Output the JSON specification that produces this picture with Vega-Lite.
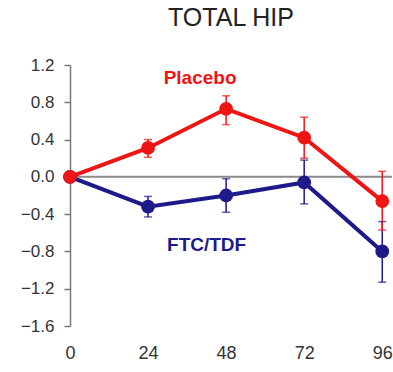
{
  "$schema": "https://vega.github.io/schema/vega-lite/v6.json",
  "autosize": "none",
  "width": 322,
  "height": 261,
  "padding": {"left": 70, "top": 65, "right": 1, "bottom": 46},
  "background": "white",
  "config": {"view": {"stroke": null}, "font": "Liberation Sans", "axis": {"labelFont": "Liberation Sans"}},
  "title": {"text": "TOTAL HIP", "fontSize": 25, "fontWeight": "normal", "color": "#222", "offset": 25, "anchor": "middle"},
  "datasets": {
    "pts": [
      {"week": 0, "mean": 0, "lo": 0, "hi": 0, "group": "FTC/TDF"},
      {"week": 24, "mean": -0.32, "lo": -0.43, "hi": -0.21, "group": "FTC/TDF"},
      {"week": 48, "mean": -0.2, "lo": -0.38, "hi": -0.02, "group": "FTC/TDF"},
      {"week": 72, "mean": -0.06, "lo": -0.29, "hi": 0.18, "group": "FTC/TDF"},
      {"week": 96, "mean": -0.8, "lo": -1.13, "hi": -0.48, "group": "FTC/TDF"},
      {"week": 0, "mean": 0, "lo": 0, "hi": 0, "group": "Placebo"},
      {"week": 24, "mean": 0.31, "lo": 0.21, "hi": 0.4, "group": "Placebo"},
      {"week": 48, "mean": 0.73, "lo": 0.56, "hi": 0.87, "group": "Placebo"},
      {"week": 72, "mean": 0.42, "lo": 0.2, "hi": 0.64, "group": "Placebo"},
      {"week": 96, "mean": -0.26, "lo": -0.57, "hi": 0.06, "group": "Placebo"}
    ],
    "labels": [
      {"week": 40, "val": 1.06, "text": "Placebo", "group": "Placebo"},
      {"week": 42, "val": -0.73, "text": "FTC/TDF", "group": "FTC/TDF"}
    ]
  },
  "layer": [
    {
      "data": {"values": [{"z": 0}]},
      "mark": {"type": "rule", "color": "#8a8a8a", "strokeWidth": 2},
      "encoding": {
        "y": {"field": "z", "type": "quantitative",
          "scale": {"domain": [-1.6, 1.2], "nice": false},
          "axis": {"values": [-1.6, -1.2, -0.8, -0.4, 0, 0.4, 0.8, 1.2], "tickCount": 12, "format": ".1f", "grid": false, "title": null,
            "domainColor": "#777", "domainWidth": 1.5, "tickColor": "#777", "tickSize": 6, "tickWidth": 1.5,
            "labelFontSize": 17, "labelColor": "#333", "labelPadding": 10, "labelOverlap": false, "labelFlush": false}},
        "x": {"datum": 0, "type": "quantitative",
          "scale": {"domain": [0, 99], "nice": false},
          "axis": {"values": [0, 24, 48, 72, 96], "tickCount": 10, "domain": false, "ticks": false, "grid": false, "title": null,
            "labelFontSize": 18, "labelColor": "#333", "labelPadding": 18, "labelOverlap": false, "labelFlush": false}},
        "x2": {"datum": 99}
      }
    },
    {
      "data": {"name": "pts"},
      "mark": {"type": "rule", "strokeWidth": 1.5},
      "encoding": {
        "x": {"field": "week", "type": "quantitative"},
        "y": {"field": "lo", "type": "quantitative"},
        "y2": {"field": "hi"},
        "color": {"field": "group", "type": "nominal", "legend": null,
          "scale": {"domain": ["Placebo", "FTC/TDF"], "range": ["#ee1515", "#1e1a8a"]}}
      }
    },
    {
      "data": {"name": "pts"},
      "mark": {"type": "tick", "orient": "horizontal", "size": 8, "thickness": 1.5},
      "encoding": {
        "x": {"field": "week", "type": "quantitative"},
        "y": {"field": "hi", "type": "quantitative"},
        "color": {"field": "group", "type": "nominal", "legend": null}
      }
    },
    {
      "data": {"name": "pts"},
      "mark": {"type": "tick", "orient": "horizontal", "size": 8, "thickness": 1.5},
      "encoding": {
        "x": {"field": "week", "type": "quantitative"},
        "y": {"field": "lo", "type": "quantitative"},
        "color": {"field": "group", "type": "nominal", "legend": null}
      }
    },
    {
      "data": {"name": "pts"},
      "mark": {"type": "line", "strokeWidth": 4},
      "encoding": {
        "x": {"field": "week", "type": "quantitative"},
        "y": {"field": "mean", "type": "quantitative"},
        "color": {"field": "group", "type": "nominal", "legend": null},
        "detail": {"field": "group"}
      }
    },
    {
      "data": {"name": "pts"},
      "mark": {"type": "point", "filled": true, "size": 190, "opacity": 1},
      "encoding": {
        "x": {"field": "week", "type": "quantitative"},
        "y": {"field": "mean", "type": "quantitative"},
        "color": {"field": "group", "type": "nominal", "legend": null}
      }
    },
    {
      "data": {"name": "labels"},
      "mark": {"type": "text", "fontSize": 19, "fontWeight": "bold", "align": "center", "baseline": "middle"},
      "encoding": {
        "x": {"field": "week", "type": "quantitative"},
        "y": {"field": "val", "type": "quantitative"},
        "text": {"field": "text"},
        "color": {"field": "group", "type": "nominal", "legend": null}
      }
    }
  ]
}
